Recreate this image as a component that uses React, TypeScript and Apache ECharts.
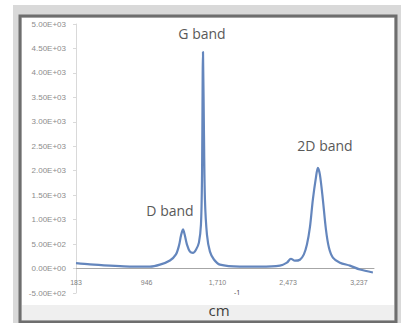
import React, { useEffect, useRef } from "react";
import * as echarts from "echarts";

const wavenumber = [
  183, 334, 550, 766, 981, 1089, 1197, 1262, 1295, 1316, 1338, 1359, 1381, 1413,
  1446, 1478, 1510, 1532, 1543, 1554, 1564, 1575, 1597, 1629, 1672, 1737, 1953,
  2168, 2384, 2460, 2503, 2546, 2600, 2643, 2676, 2708, 2740, 2773, 2794, 2816,
  2848, 2881, 2913, 2956, 3032, 3140, 3248, 3388,
];
const intensity = [
  110, 85, 60, 40, 40, 80, 165, 290, 470, 670, 800, 670, 490, 345,
  320, 385, 530, 900, 1820, 4430, 2840, 1410, 690, 345, 185, 80, 40,
  40, 60, 120, 200, 160, 180, 290, 490, 840, 1410, 1860, 2060, 1920,
  1410, 800, 430, 225, 120, 60, -20, -80,
];
const xTickValues = [183, 946, 1710, 2473, 3237];
const bandLabels = ["G band", "2D band", "D band"];

const Y_MIN = -500;
const Y_MAX = 5000;
const GRID_TOP = 24;
const GRID_BOTTOM = 30;
const H = 323;

function sci(v: number): string {
  if (v === 0) return "0.00E+00";
  const e = Math.floor(Math.log10(Math.abs(v)));
  const m = v / Math.pow(10, e);
  const ae = Math.abs(e);
  return m.toFixed(2) + "E" + (e >= 0 ? "+" : "-") + (ae < 10 ? "0" + ae : String(ae));
}

export default function App() {
  const ref = useRef<HTMLDivElement>(null);
  useEffect(() => {
    if (!ref.current) return;
    const chart = echarts.init(ref.current, null, { renderer: "svg" });
    const data = wavenumber.map((x, i) => [x, intensity[i]]);
    const gridH = H - GRID_TOP - GRID_BOTTOM;
    const zeroOffset = -(gridH * (0 - Y_MIN)) / (Y_MAX - Y_MIN);
    chart.setOption({
      animation: false,
      backgroundColor: "#ffffff",
      grid: { left: 76, right: 27, top: GRID_TOP, bottom: GRID_BOTTOM },
      xAxis: {
        type: "value",
        min: 183,
        max: 3400,
        offset: zeroOffset,
        axisLine: { onZero: false, lineStyle: { color: "#a6a6a6", width: 1 } },
        axisTick: { show: false },
        splitLine: { show: false },
        axisLabel: {
          customValues: xTickValues,
          formatter: (v: number) => v.toLocaleString("en-US"),
          color: "#7f7f7f",
          fontSize: 7,
          fontFamily: "Liberation Sans",
          margin: 10,
        },
      },
      yAxis: {
        type: "value",
        min: Y_MIN,
        max: Y_MAX,
        interval: 500,
        axisLine: { show: true, lineStyle: { color: "#d9d9d9" } },
        axisTick: { show: true, length: 3, lineStyle: { color: "#d9d9d9" } },
        splitLine: { show: false },
        axisLabel: {
          formatter: (v: number) => sci(v),
          color: "#8c8c8c",
          fontSize: 8,
          fontFamily: "Liberation Sans",
          margin: 10,
        },
      },
      graphic: [
        { type: "rect", shape: { x: 13, y: 5, width: 388, height: 318 }, style: { fill: "#d9d9d9" }, z: -10 },
        { type: "rect", shape: { x: 20, y: 16, width: 376, height: 306 }, style: { fill: "none", stroke: "#6e6e6e", lineWidth: 3 }, z: -9 },
        { type: "rect", shape: { x: 22, y: 18, width: 372, height: 287 }, style: { fill: "#ffffff" }, z: -8 },
        { type: "rect", shape: { x: 22, y: 305, width: 372, height: 15 }, style: { fill: "#efefef" }, z: -8 },
        { type: "text", x: 219, y: 310, style: { text: "cm", fill: "#404040", font: "15px 'Open Sans'", align: "center", verticalAlign: "middle" } },
        { type: "text", x: 234, y: 292, style: { text: "-1", fill: "#404040", font: "7px 'Open Sans'", align: "left", verticalAlign: "middle" } },
        { type: "text", x: 202, y: 33, style: { text: bandLabels[0], fill: "#595959", font: "14px 'Open Sans'", align: "center", verticalAlign: "middle" } },
        { type: "text", x: 325, y: 145, style: { text: bandLabels[1], fill: "#595959", font: "14px 'Open Sans'", align: "center", verticalAlign: "middle" } },
        { type: "text", x: 170, y: 210, style: { text: bandLabels[2], fill: "#595959", font: "14px 'Open Sans'", align: "center", verticalAlign: "middle" } },
      ],
      series: [
        {
          type: "line",
          data,
          smooth: 0.3,
          showSymbol: false,
          lineStyle: { color: "#6486bd", width: 2.2 },
        },
      ],
    });
    return () => chart.dispose();
  }, []);
  return <div ref={ref} style={{ width: 401, height: 323, position: "absolute", left: 0, top: 0 }} />;
}
